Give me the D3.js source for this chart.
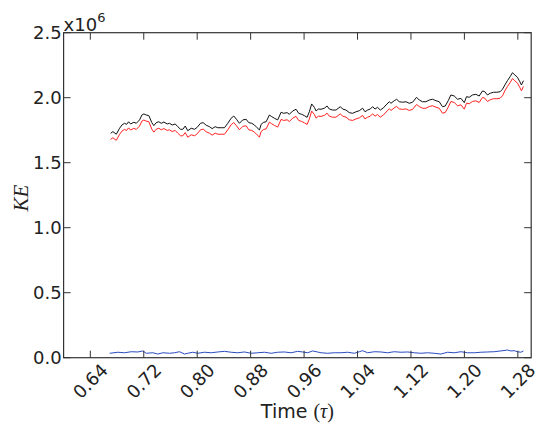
<!DOCTYPE html>
<html>
<head>
<meta charset="utf-8">
<script src="https://cdn.jsdelivr.net/npm/d3@7"></script>
<style>
  body { margin: 0; background: #fff; }
  svg { display: block; font-family: "DejaVu Sans", sans-serif; }
</style>
</head>
<body>
<svg id="chart" width="539" height="425"></svg>
<script>
// time (tau) samples for the two upper curves
const time = [
  0.6704,0.6738,0.6789,0.6838,0.6873,0.6913,0.6943,0.6973,0.7003,0.7052,
  0.7088,0.7137,0.7172,0.7201,0.7237,0.7276,0.7321,0.7351,0.7387,0.7426,
  0.7462,0.7501,0.7551,0.7586,0.7626,0.7671,0.7710,0.7750,0.7785,0.7821,
  0.7859,0.7910,0.7960,0.8000,0.8049,0.8090,0.8135,0.8184,0.8224,0.8269,
  0.8308,0.8359,0.8408,0.8458,0.8508,0.8547,0.8588,0.8632,0.8682,0.8733,
  0.8772,0.8817,0.8857,0.8897,0.8932,0.8957,0.8996,0.9032,0.9081,0.9116,
  0.9156,0.9205,0.9256,0.9295,0.9346,0.9380,0.9430,0.9480,0.9519,0.9564,
  0.9604,0.9645,0.9679,0.9714,0.9754,0.9779,0.9814,0.9854,0.9903,0.9944,
  0.9978,1.0028,1.0078,1.0143,1.0177,1.0228,1.0277,1.0327,1.0378,1.0427,
  1.0476,1.0512,1.0551,1.0591,1.0626,1.0662,1.0700,1.0741,1.0790,1.0826,
  1.0876,1.0901,1.0950,1.0985,1.1025,1.1074,1.1125,1.1174,1.1224,1.1284,
  1.1324,1.1373,1.1424,1.1474,1.1523,1.1574,1.1623,1.1672,1.1713,1.1758,
  1.1798,1.1848,1.1897,1.1948,1.1998,1.2032,1.2072,1.2121,1.2172,1.2221,
  1.2271,1.2306,1.2345,1.2386,1.2435,1.2486,1.2535,1.2570,1.2606,1.2644,
  1.2685,1.2719,1.2755,1.2794,1.2830,1.2854,1.2884
]

// KE in units of 1e6
const keTotal = [
  1.726,1.739,1.719,1.765,1.790,1.803,1.795,1.815,1.798,1.811,
  1.803,1.829,1.867,1.875,1.867,1.862,1.808,1.785,1.808,1.815,
  1.803,1.813,1.798,1.803,1.790,1.798,1.777,1.757,1.757,1.782,
  1.746,1.765,1.757,1.772,1.803,1.808,1.788,1.777,1.762,1.777,
  1.769,1.769,1.769,1.803,1.842,1.859,1.834,1.803,1.829,1.834,
  1.808,1.803,1.790,1.769,1.752,1.795,1.811,1.815,1.867,1.854,
  1.842,1.829,1.888,1.880,1.885,1.872,1.898,1.911,1.880,1.872,
  1.862,1.849,1.892,1.952,1.926,1.898,1.913,1.911,1.919,1.936,
  1.913,1.905,1.905,1.931,1.913,1.905,1.885,1.880,1.892,1.900,
  1.919,1.892,1.905,1.913,1.931,1.913,1.926,1.905,1.923,1.944,
  1.969,1.957,1.977,1.988,1.969,1.965,1.969,1.957,1.965,2.003,
  1.982,1.969,1.969,1.982,1.988,1.977,1.969,1.931,1.936,1.977,
  2.021,2.013,1.988,1.995,1.962,2.008,2.003,2.021,2.026,2.013,
  2.052,2.046,2.021,2.034,2.042,2.042,2.046,2.065,2.098,2.131,
  2.162,2.192,2.175,2.157,2.123,2.098,2.131
]

const keTrans = [
  1.679,1.692,1.672,1.718,1.743,1.756,1.748,1.768,1.751,1.764,
  1.756,1.782,1.820,1.828,1.820,1.815,1.758,1.735,1.758,1.765,
  1.753,1.763,1.748,1.753,1.740,1.748,1.727,1.707,1.707,1.732,
  1.696,1.715,1.707,1.722,1.753,1.758,1.738,1.727,1.712,1.727,
  1.719,1.719,1.719,1.753,1.792,1.809,1.784,1.753,1.779,1.784,
  1.753,1.748,1.735,1.714,1.697,1.740,1.756,1.760,1.812,1.799,
  1.787,1.774,1.833,1.825,1.830,1.817,1.843,1.856,1.825,1.817,
  1.807,1.794,1.837,1.897,1.871,1.843,1.858,1.856,1.864,1.881,
  1.858,1.850,1.850,1.876,1.858,1.850,1.830,1.825,1.837,1.845,
  1.864,1.837,1.850,1.858,1.876,1.858,1.871,1.850,1.868,1.889,
  1.914,1.902,1.922,1.933,1.914,1.910,1.914,1.902,1.910,1.948,
  1.932,1.919,1.919,1.932,1.938,1.927,1.919,1.881,1.886,1.927,
  1.971,1.963,1.938,1.945,1.912,1.958,1.953,1.971,1.976,1.963,
  2.002,1.996,1.971,1.984,1.992,1.992,1.996,2.015,2.053,2.086,
  2.117,2.147,2.130,2.112,2.078,2.053,2.086
]

// lower curve has its own sampling
const timeRot = [
  0.6689,0.6813,0.6913,0.7013,0.7112,0.7187,0.7237,0.7336,0.7411,0.7486,
  0.7586,0.7661,0.7735,0.7810,0.7859,0.7934,0.8009,0.8109,0.8209,0.8308,
  0.8408,0.8508,0.8607,0.8707,0.8807,0.8906,0.9006,0.9107,0.9205,0.9305,
  0.9406,0.9504,0.9579,0.9654,0.9729,0.9854,0.9953,1.0053,1.0153,1.0252,
  1.0352,1.0427,1.0476,1.0551,1.0651,1.0751,1.0850,1.0950,1.1050,1.1149,
  1.1249,1.1349,1.1448,1.1548,1.1649,1.1747,1.1848,1.1948,1.2046,1.2147,
  1.2247,1.2345,1.2446,1.2546,1.2644,1.2695,1.2745,1.2794,1.2845,1.2884
]
const keRot = [
  0.034,0.042,0.038,0.046,0.044,0.052,0.034,0.038,0.028,0.038,
  0.034,0.038,0.046,0.028,0.034,0.042,0.034,0.042,0.038,0.044,
  0.049,0.042,0.038,0.044,0.034,0.038,0.042,0.034,0.042,0.044,
  0.038,0.049,0.044,0.038,0.052,0.038,0.034,0.038,0.038,0.042,
  0.034,0.046,0.054,0.038,0.046,0.044,0.038,0.046,0.042,0.044,
  0.038,0.034,0.038,0.034,0.028,0.042,0.038,0.046,0.038,0.038,
  0.042,0.044,0.046,0.052,0.059,0.052,0.054,0.046,0.042,0.052
]

const xTicks = [0.64, 0.72, 0.80, 0.88, 0.96, 1.04, 1.12, 1.20, 1.28]
const yTicks = [0.0, 0.5, 1.0, 1.5, 2.0, 2.5]

let svg = d3.select('#chart')

let plotLeft = 63.6, plotRight = 531.2, plotTop = 32.7, plotBottom = 357.7

let x = d3.scaleLinear().domain([0.6, 1.3]).range([plotLeft, plotRight])
let y = d3.scaleLinear().domain([0, 2.5]).range([plotBottom, plotTop])

let tickLen = 7
let frameColor = '#333'
let mathFont = '"Liberation Serif", "DejaVu Serif", serif'

// curves
let line = d3.line()
    .x(d => x(d[0]))
    .y(d => y(d[1]))

let series = [
    {t: time, v: keTotal, color: '#111'},
    {t: time, v: keTrans, color: '#ff2020'},
    {t: timeRot, v: keRot, color: '#2a4cc0'}
]

series.forEach(s => {
    svg.append('path')
        .datum(s.t.map((t, i) => [t, s.v[i]]))
        .attr('d', line)
        .attr('fill', 'none')
        .attr('stroke', s.color)
        .attr('stroke-width', 1)
})

// frame
svg.append('rect')
    .attr('x', plotLeft).attr('y', plotTop)
    .attr('width', plotRight - plotLeft).attr('height', plotBottom - plotTop)
    .attr('fill', 'none')
    .attr('stroke', frameColor)
    .attr('stroke-width', 1.2)

// x ticks (bottom and top, pointing inward)
let fmtX = d3.format('.2f')
xTicks.forEach(t => {
    svg.append('line')
        .attr('x1', x(t)).attr('x2', x(t))
        .attr('y1', plotBottom).attr('y2', plotBottom - tickLen)
        .attr('stroke', frameColor)
    svg.append('line')
        .attr('x1', x(t)).attr('x2', x(t))
        .attr('y1', plotTop).attr('y2', plotTop + tickLen)
        .attr('stroke', frameColor)
    let cy = 381
    svg.append('text')
        .attr('x', x(t)).attr('y', cy)
        .attr('dy', '0.36em')
        .attr('text-anchor', 'middle')
        .attr('transform', `rotate(-45, ${x(t)}, ${cy})`)
        .attr('font-size', 18)
        .attr('fill', '#222')
        .text(fmtX(t))
})

// y ticks (left and right, pointing inward)
let fmtY = d3.format('.1f')
yTicks.forEach(v => {
    svg.append('line')
        .attr('x1', plotLeft).attr('x2', plotLeft + tickLen)
        .attr('y1', y(v)).attr('y2', y(v))
        .attr('stroke', frameColor)
    svg.append('line')
        .attr('x1', plotRight).attr('x2', plotRight - tickLen)
        .attr('y1', y(v)).attr('y2', y(v))
        .attr('stroke', frameColor)
    svg.append('text')
        .attr('x', plotLeft - 2).attr('y', y(v))
        .attr('dy', '0.36em')
        .attr('text-anchor', 'end')
        .attr('font-size', 18)
        .attr('fill', '#222')
        .text(fmtY(v))
})

// offset text x10^6
let off = svg.append('text')
    .attr('x', plotLeft).attr('y', 31)
    .attr('font-size', 18)
    .attr('fill', '#222')
off.append('tspan').text('x10')
off.append('tspan').attr('dy', -9).attr('font-size', 13).text('6')

// axis labels
let xl = svg.append('text')
    .attr('x', (plotLeft + plotRight) / 2).attr('y', 418)
    .attr('text-anchor', 'middle')
    .attr('font-size', 19)
    .attr('fill', '#222')
xl.append('tspan').text('Time ')
xl.append('tspan').attr('font-family', mathFont).attr('font-size', 20).text('(')
xl.append('tspan').attr('font-family', mathFont).attr('font-size', 20).attr('font-style', 'italic').text('τ')
xl.append('tspan').attr('font-family', mathFont).attr('font-size', 20).text(')')

svg.append('text')
    .attr('transform', `translate(28, ${(plotTop + plotBottom) / 2 + 3}) rotate(-90)`)
    .attr('text-anchor', 'middle')
    .attr('font-size', 21)
    .attr('font-family', mathFont)
    .attr('font-style', 'italic')
    .attr('fill', '#222')
    .text('KE')
</script>
</body>
</html>
